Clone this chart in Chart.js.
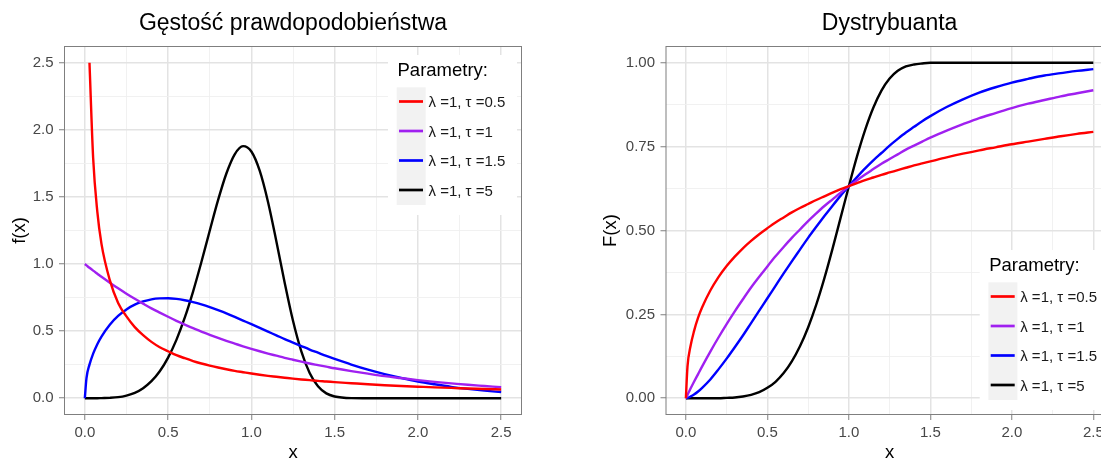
<!DOCTYPE html>
<html>
<head>
<meta charset="utf-8">
<title>Rozkład Weibulla</title>
<script src="https://cdn.jsdelivr.net/npm/chart.js@4.4.1/dist/chart.umd.min.js"></script>
<style>
  html, body { margin: 0; padding: 0; background: #fff; overflow: hidden; }
  body { width: 1101px; height: 459px; position: relative; }
  canvas { position: absolute; top: 0; }
  #density { left: 0; }
  #cdf { left: 600px; }
</style>
</head>
<body>
<canvas id="density" width="550" height="470"></canvas>
<canvas id="cdf" width="550" height="470"></canvas>
<script>
"use strict";

const FONT = "'Liberation Sans', Arial, sans-serif";

// x grid shared by all curves (denser near zero where the curves are steep)
const xs = [0, 0.01, 0.028, 0.05, 0.075, 0.1, 0.15, 0.2, 0.25, 0.3, 0.35, 0.4, 0.45, 0.5,
  0.55, 0.6, 0.65, 0.7, 0.75, 0.8, 0.85, 0.9, 0.95, 1, 1.05, 1.1, 1.15, 1.2, 1.25, 1.3,
  1.35, 1.4, 1.45, 1.5, 1.6, 1.7, 1.8, 1.9, 2, 2.1, 2.2, 2.3, 2.4, 2.5];

// density f(x), lambda = 1
const pdfT05 = [null, null, 2.5, 1.79, 1.39, 1.15, 0.88, 0.71, 0.61, 0.53, 0.47, 0.42, 0.38, 0.35,
  0.321, 0.298, 0.277, 0.259, 0.243, 0.229, 0.216, 0.204, 0.194, 0.184,
  0.175, 0.167, 0.16, 0.153, 0.146, 0.14, 0.135, 0.129, 0.125, 0.12,
  0.112, 0.104, 0.097, 0.091, 0.086, 0.081, 0.077, 0.072, 0.069, 0.065];
const pdfT1 = [1, 0.99, 0.972, 0.951, 0.928, 0.905, 0.861, 0.819, 0.779, 0.741, 0.705, 0.67, 0.638, 0.607,
  0.577, 0.549, 0.522, 0.497, 0.472, 0.449, 0.427, 0.407, 0.387, 0.368,
  0.35, 0.333, 0.317, 0.301, 0.287, 0.273, 0.259, 0.247, 0.235, 0.223,
  0.202, 0.183, 0.165, 0.15, 0.135, 0.122, 0.111, 0.1, 0.091, 0.082];
const pdfT15 = [0, 0.15, 0.25, 0.332, 0.403, 0.46, 0.548, 0.613, 0.662, 0.697, 0.721, 0.737, 0.744, 0.745,
  0.74, 0.73, 0.716, 0.699, 0.679, 0.656, 0.632, 0.606, 0.579, 0.552,
  0.524, 0.496, 0.469, 0.441, 0.415, 0.389, 0.363, 0.339, 0.315, 0.293,
  0.251, 0.213, 0.18, 0.151, 0.125, 0.104, 0.085, 0.07, 0.057, 0.046];
const pdfT5 = [0, 0, 0, 0, 0, 0.001, 0.003, 0.008, 0.02, 0.04, 0.075, 0.127, 0.201, 0.303,
  0.435, 0.6, 0.795, 1.015, 1.248, 1.476, 1.675, 1.818, 1.879, 1.839,
  1.696, 1.463, 1.17, 0.861, 0.577, 0.349, 0.188, 0.089, 0.036, 0.013,
  0.001, 0, 0, 0, 0, 0, 0, 0, 0, 0];

// distribution function F(x), lambda = 1
const cdfT05 = [0, 0.095, 0.154, 0.2, 0.24, 0.271, 0.321, 0.361, 0.394, 0.422, 0.447, 0.469, 0.489, 0.507,
  0.524, 0.539, 0.554, 0.567, 0.579, 0.591, 0.602, 0.613, 0.623, 0.632,
  0.641, 0.65, 0.658, 0.666, 0.673, 0.68, 0.687, 0.694, 0.7, 0.706,
  0.718, 0.729, 0.739, 0.748, 0.757, 0.765, 0.773, 0.781, 0.788, 0.794];
const cdfT1 = [0, 0.01, 0.028, 0.049, 0.072, 0.095, 0.139, 0.181, 0.221, 0.259, 0.295, 0.33, 0.362, 0.393,
  0.423, 0.451, 0.478, 0.503, 0.528, 0.551, 0.573, 0.593, 0.613, 0.632,
  0.65, 0.667, 0.683, 0.699, 0.713, 0.727, 0.741, 0.753, 0.765, 0.777,
  0.798, 0.817, 0.835, 0.85, 0.865, 0.878, 0.889, 0.9, 0.909, 0.918];
const cdfT15 = [0, 0.001, 0.005, 0.011, 0.02, 0.031, 0.056, 0.086, 0.118, 0.152, 0.187, 0.224, 0.261, 0.298,
  0.335, 0.372, 0.408, 0.443, 0.478, 0.511, 0.543, 0.574, 0.604, 0.632,
  0.659, 0.685, 0.709, 0.731, 0.753, 0.773, 0.792, 0.809, 0.826, 0.841,
  0.868, 0.891, 0.911, 0.927, 0.941, 0.952, 0.962, 0.969, 0.976, 0.981];
const cdfT5 = [0, 0, 0, 0, 0, 0, 0, 0, 0.001, 0.002, 0.005, 0.01, 0.018, 0.031,
  0.049, 0.075, 0.11, 0.155, 0.211, 0.279, 0.358, 0.446, 0.539, 0.632,
  0.721, 0.8, 0.866, 0.917, 0.953, 0.976, 0.989, 0.995, 0.998, 1,
  1, 1, 1, 1, 1, 1, 1, 1, 1, 1];

const seriesLabels = ["λ =1, τ =0.5", "λ =1, τ =1", "λ =1, τ =1.5", "λ =1, τ =5"];
const seriesColors = ["#ff0000", "#a020f0", "#0000ff", "#000000"];
const legendTitle = "Parametry:";

const xBreaks = [0, 0.5, 1, 1.5, 2, 2.5];
const xMinorBreaks = [0.25, 0.75, 1.25, 1.75, 2.25];
const pdfBreaks = [0, 0.5, 1, 1.5, 2, 2.5];
const pdfMinorBreaks = [0.25, 0.75, 1.25, 1.75, 2.25];
const cdfBreaks = [0, 0.25, 0.5, 0.75, 1];
const cdfMinorBreaks = [0.125, 0.375, 0.625, 0.875];

function points(ys) {
  return xs.map((x, i) => ({ x: x, y: ys[i] }));
}

function makeDatasets(series) {
  return series.map((ys, i) => ({
    label: seriesLabels[i],
    data: points(ys),
    borderColor: seriesColors[i],
    borderWidth: 2.4,
    pointRadius: 0,
    cubicInterpolationMode: "monotone",
    fill: false,
  }));
}

function breaksToTicks(major, minor) {
  return major
    .map((v) => ({ value: v, minor: false }))
    .concat(minor.map((v) => ({ value: v, minor: true })))
    .sort((a, b) => a.value - b.value);
}

const isMinor = (c) => !!(c.tick && c.tick.minor);

function makeAxis(cfg) {
  return {
    type: "linear",
    min: cfg.min,
    max: cfg.max,
    bounds: "data",
    afterBuildTicks: (scale) => {
      scale.ticks = breaksToTicks(cfg.major, cfg.minor);
    },
    afterFit: (scale) => {
      if (scale.isHorizontal()) scale.height = cfg.size;
      else scale.width = cfg.size;
    },
    grid: {
      color: (c) => (isMinor(c) ? "#efefef" : "#e3e3e3"),
      lineWidth: (c) => (isMinor(c) ? 0.9 : 1.5),
      tickColor: (c) => (isMinor(c) ? "rgba(0,0,0,0)" : "#7f7f7f"),
      tickWidth: 1,
      tickLength: 5,
      drawTicks: true,
    },
    border: { display: false },
    ticks: {
      autoSkip: false,
      maxRotation: 0,
      padding: cfg.padding,
      color: "#474747",
      font: { family: FONT, size: 15 },
      callback: (v, i, ticks) => (ticks[i].minor ? "" : v.toFixed(cfg.digits)),
    },
    title: {
      display: true,
      text: cfg.title,
      color: "#000",
      font: { family: FONT, size: 18.5 },
      padding: cfg.titlePadding,
    },
  };
}

// panel border and the ggplot-like legend inside the panel
const panelDecor = {
  id: "ggLegend",
  afterDraw(chart, args, opts) {
    const ctx = chart.ctx;
    const a = chart.chartArea;
    ctx.save();
    ctx.strokeStyle = "#7f7f7f";
    ctx.lineWidth = 1;
    ctx.strokeRect(a.left + 0.5, a.top + 0.5, a.width - 1, a.height - 1);

    const w = 129;
    const h = 160;
    const left = a.right - 5 - w;
    const top = opts.corner === "top" ? a.top + 9 : a.bottom - 5 - h;
    ctx.fillStyle = "#fff";
    ctx.fillRect(left, top, w, h);

    ctx.textAlign = "left";
    ctx.textBaseline = "middle";
    ctx.fillStyle = "#000";
    ctx.font = "18.5px " + FONT;
    ctx.fillText(legendTitle, left + 9.5, top + 16);

    ctx.fillStyle = "#f2f2f2";
    ctx.fillRect(left + 8.7, top + 32.3, 29, 117.7);

    ctx.font = "15px " + FONT;
    chart.data.datasets.forEach((ds, i) => {
      const y = top + 46.5 + i * 29.5;
      ctx.strokeStyle = ds.borderColor;
      ctx.lineWidth = 2.7;
      ctx.beginPath();
      ctx.moveTo(left + 11, y);
      ctx.lineTo(left + 35, y);
      ctx.stroke();
      ctx.fillStyle = "#1a1a1a";
      ctx.fillText(ds.label, left + 40.5, y + 1.5);
    });
    ctx.restore();
  },
};

function titleOptions(text) {
  return {
    display: true,
    fullSize: false,
    text: text,
    color: "#000",
    font: { family: FONT, size: 23, weight: "normal" },
    padding: { top: 10.2, bottom: 8.2 },
  };
}

new Chart(document.getElementById("density"), {
  type: "line",
  data: { datasets: makeDatasets([pdfT05, pdfT1, pdfT15, pdfT5]) },
  options: {
    responsive: false,
    animation: false,
    layout: { padding: { left: 0, right: 28, top: 0, bottom: 0 } },
    scales: {
      x: makeAxis({
        min: -0.125, max: 2.625, major: xBreaks, minor: xMinorBreaks,
        size: 55, digits: 1, padding: 3.5, title: "x",
        titlePadding: { top: 0, bottom: 5.9 },
      }),
      y: makeAxis({
        min: -0.125, max: 2.625, major: pdfBreaks, minor: pdfMinorBreaks,
        size: 64, digits: 1, padding: 5.5, title: "f(x)",
        titlePadding: { top: 8.9, bottom: 0 },
      }),
    },
    plugins: {
      legend: { display: false },
      tooltip: { enabled: false },
      title: titleOptions("Gęstość prawdopodobieństwa"),
      ggLegend: { corner: "top" },
    },
  },
  plugins: [panelDecor],
});

new Chart(document.getElementById("cdf"), {
  type: "line",
  data: { datasets: makeDatasets([cdfT05, cdfT1, cdfT15, cdfT5]) },
  options: {
    responsive: false,
    animation: false,
    layout: { padding: { left: 0, right: 36.3, top: 0, bottom: 0 } },
    scales: {
      x: makeAxis({
        min: -0.125, max: 2.625, major: xBreaks, minor: xMinorBreaks,
        size: 55, digits: 1, padding: 3.5, title: "x",
        titlePadding: { top: 0, bottom: 5.9 },
      }),
      y: makeAxis({
        min: -0.05, max: 1.05, major: cdfBreaks, minor: cdfMinorBreaks,
        size: 65.5, digits: 2, padding: 5.5, title: "F(x)",
        titlePadding: { top: 0, bottom: 0 },
      }),
    },
    plugins: {
      legend: { display: false },
      tooltip: { enabled: false },
      title: titleOptions("Dystrybuanta"),
      ggLegend: { corner: "bottom" },
    },
  },
  plugins: [panelDecor],
});
</script>
</body>
</html>
